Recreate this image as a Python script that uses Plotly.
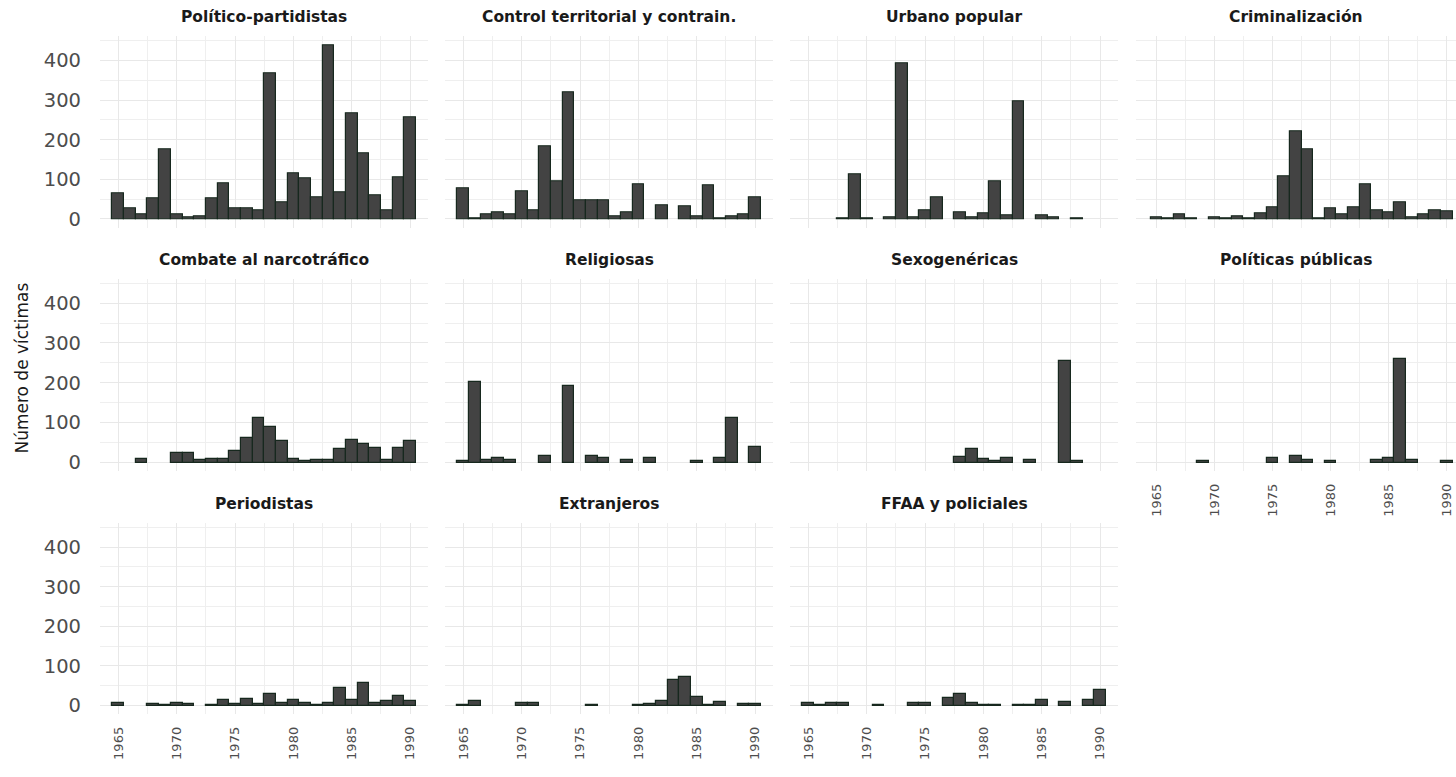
import plotly.graph_objects as go

YEARS = list(range(1965, 1991))
N = None

politico = [64, 27, 12, 53, 176, 12, 4, 7, 52, 89, 27, 27, 21, 367, 43, 115, 102, 54, 439, 68, 267, 165, 59, 21, 106, 257]
control = [77, 2, 12, 17, 12, 69, 22, 182, 94, 319, 47, 47, 47, 6, 17, 87, N, 35, N, 32, 6, 85, 1, 7, 11, 54]
urbano = [N, N, N, 1, 112, 1, N, 5, 392, 4, 21, 54, N, 17, 4, 14, 96, 10, 298, N, 8, 4, N, 2, N, N]
crimin = [4, 2, 12, 2, N, 4, 2, 7, 2, 15, 29, 107, 221, 175, 2, 27, 12, 29, 87, 21, 17, 42, 4, 11, 21, 19]
narco = [N, N, 8, N, N, 23, 25, 6, 8, 10, 29, 62, 112, 88, 53, 10, 3, 7, 7, 35, 57, 47, 37, 6, 37, 53]
religiosas = [4, 203, 6, 12, 6, N, N, 17, N, 193, N, 16, 12, N, 6, N, 12, N, N, N, 5, N, 12, 112, N, 39]
sexogen = [N, N, N, N, N, N, N, N, N, N, N, N, N, 14, 33, 10, 4, 12, N, 6, N, N, 256, 4, N, N]
publicas = [N, N, N, N, 4, N, N, N, N, N, 12, N, 17, 6, N, 4, N, N, N, 6, 12, 260, 6, N, N, 4]
periodistas = [7, N, N, 4, 2, 6, 4, N, 2, 15, 4, 17, 4, 29, 7, 13, 7, 2, 7, 44, 15, 57, 7, 12, 25, 12]
extranjeros = [2, 12, N, N, N, 6, 7, N, N, N, N, 2, N, N, N, 2, 4, 12, 65, 71, 22, 2, 8, N, 4, 4]
ffaa = [7, 2, 6, 7, N, N, 2, N, N, 6, 7, N, 18, 29, 7, 2, 2, N, 2, 2, 14, N, 8, N, 15, 40]

TITLES = ["Político-partidistas", "Control territorial y contrain.", "Urbano popular", "Criminalización",
          "Combate al narcotráfico", "Religiosas", "Sexogenéricas", "Políticas públicas",
          "Periodistas", "Extranjeros", "FFAA y policiales"]
SERIES = [politico, control, urbano, crimin, narco, religiosas, sexogen, publicas,
          periodistas, extranjeros, ffaa]
Y_TICKS = [0, 100, 200, 300, 400]
X_TICKS = [1965, 1970, 1975, 1980, 1985, 1990]

W, H = 1456, 777
COLS = [(100, 428), (445, 773), (790, 1118), (1136, 1456)]
ROWS = [(36.5, 228.5), (280, 473), (525, 717)]
FONT = "DejaVu Sans"

fig = go.Figure()
layout = dict(width=W, height=H, margin=dict(l=0, r=0, t=0, b=0),
              paper_bgcolor="white", plot_bgcolor="white", showlegend=False,
              bargap=0, annotations=[])

for i, (title, vals) in enumerate(zip(TITLES, SERIES)):
    r, c = divmod(i, 4)
    k = i + 1
    xa = "xaxis" if k == 1 else f"xaxis{k}"
    ya = "yaxis" if k == 1 else f"yaxis{k}"
    xref = "x" if k == 1 else f"x{k}"
    yref = "y" if k == 1 else f"y{k}"
    fig.add_trace(go.Bar(x=YEARS, y=vals, width=1, xaxis=xref, yaxis=yref,
                         marker=dict(color="#434343", line=dict(color="#17281e", width=1.2))))
    x0, x1 = COLS[c]
    y0, y1 = ROWS[r]
    bottom = (r == 2) or (c == 3 and r == 1)
    xr = [1963.43, 1991.54] if c < 3 else [1963.25, 1990.8]
    layout[xa] = dict(domain=[x0 / W, x1 / W], range=xr, anchor=yref,
                      tickvals=X_TICKS, showticklabels=bottom, tickangle=-90,
                      tickfont=dict(family=FONT, size=13, color="#4d4d4d"),
                      ticklabelstandoff=9,
                      showgrid=True, gridcolor="#e8e8e8", gridwidth=1.4,
                      minor=dict(tickvals=[1967.5, 1972.5, 1977.5, 1982.5, 1987.5],
                                 showgrid=True, gridcolor="#efefef", gridwidth=0.9),
                      zeroline=False, showline=False, ticks="", fixedrange=True)
    layout[ya] = dict(domain=[1 - y1 / H, 1 - y0 / H], range=[-22, 461], anchor=xref,
                      tickvals=Y_TICKS, showticklabels=(c == 0),
                      tickfont=dict(family=FONT, size=19.5, color="#4d4d4d"),
                      ticklabelstandoff=18,
                      showgrid=True, gridcolor="#e8e8e8", gridwidth=1.4,
                      minor=dict(tickvals=[50, 150, 250, 350, 450],
                                 showgrid=True, gridcolor="#efefef", gridwidth=0.9),
                      zeroline=False, showline=False, ticks="", fixedrange=True)
    layout["annotations"].append(dict(
        text=title, x=(x0 + x1) / 2 / W, y=1 - (y0 - 19) / H, xref="paper", yref="paper",
        xanchor="center", yanchor="middle", showarrow=False,
        font=dict(family=FONT, size=15.5, color="#1a1a1a", weight="bold")))

layout["annotations"].append(dict(
    text="Número de víctimas", x=22 / W, y=1 - 370 / H, xref="paper", yref="paper",
    xanchor="center", yanchor="middle", showarrow=False, textangle=-90,
    font=dict(family=FONT, size=17, color="#1a1a1a")))

fig.update_layout(**layout)
fig.write_html("out.html")
